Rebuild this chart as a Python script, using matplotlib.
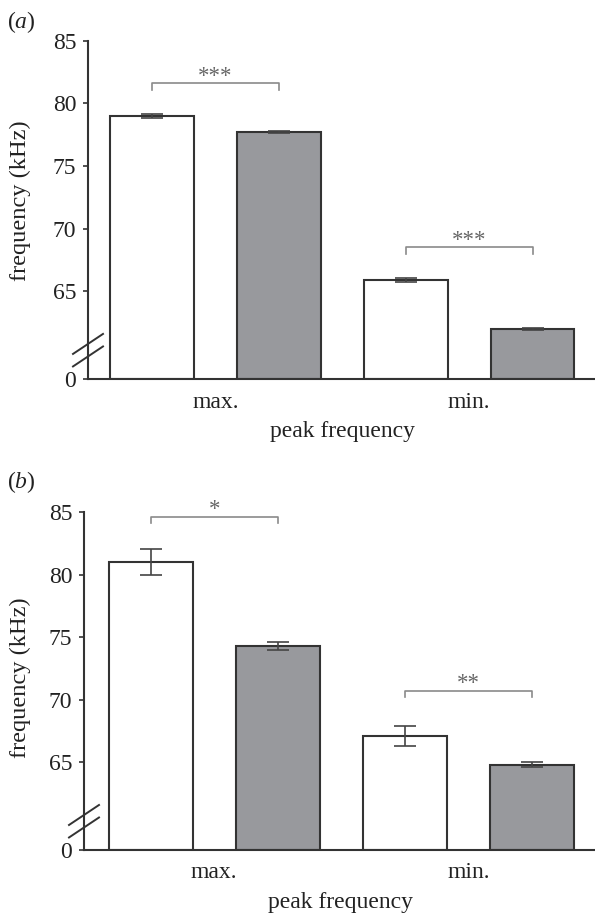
import matplotlib
matplotlib.use('Agg')
import matplotlib.pyplot as plt
import numpy as np

plt.rcParams['font.family'] = ['Liberation Serif', 'DejaVu Serif']
plt.rcParams['mathtext.fontset'] = 'custom'
plt.rcParams['mathtext.rm'] = 'Liberation Serif'
plt.rcParams['mathtext.it'] = 'Liberation Serif:italic'

# ---------------- data ----------------
groups = ['max.', 'min.']
bar_colors = ['white', '#98999d', 'white', '#98999d']
a_means = [79.0, 77.7, 65.9, 62.0]
a_errs = [0.13, 0.08, 0.13, 0.08]
b_means = [81.0, 74.3, 67.1, 64.8]
b_errs = [1.05, 0.3, 0.8, 0.2]
a_sig = ['***', '***']
b_sig = ['*', '**']
a_bracket_y = [81.6, 68.5]
b_bracket_y = [84.65, 70.75]
ytick_vals = [65, 70, 75, 80, 85]
ytick_labels = ['65', '70', '75', '80', '85']
axis_base = 58          # value drawn at the broken axis bottom, labelled "0"
axis_top = 85
panel_labels = [r'($\mathit{a}$)', r'($\mathit{b}$)']
ylabel = 'frequency (kHz)'
xlabel = 'peak frequency'

W, H = 595, 917
DPI = 100
fig = plt.figure(figsize=(W / DPI, H / DPI), dpi=DPI)

def ax_px(left, top, right, bottom):
    return fig.add_axes([left / W, 1 - bottom / H, (right - left) / W, (bottom - top) / H])

TXT = '#222222'
EDGE = '#333333'
FS = 17

def draw_panel(ax, means, errs, sig, bracket_y, xlim_left):
    x = np.arange(len(means))
    heights = np.array(means) - axis_base
    ax.bar(x, heights, bottom=axis_base, width=0.66, color=bar_colors,
           edgecolor=EDGE, linewidth=1.5, zorder=2)
    ax.errorbar(x, means, yerr=errs, fmt='none', ecolor='#444444',
                elinewidth=1.2, capsize=7.8, capthick=1.2, zorder=3)
    ax.set_xlim(xlim_left, 3.5)
    ax.set_ylim(axis_base, axis_top)
    ax.set_yticks([axis_base] + ytick_vals)
    ax.set_yticklabels(['0'] + ytick_labels)
    ax.set_xticks([0.5, 2.5])
    ax.set_xticklabels(groups)
    ax.tick_params(axis='x', length=0, pad=9, labelsize=FS, colors=TXT)
    ax.tick_params(axis='y', length=3.5, width=1.2, pad=5, labelsize=FS,
                   colors=TXT, color=EDGE)
    for s in ['top', 'right']:
        ax.spines[s].set_visible(False)
    for s in ['left', 'bottom']:
        ax.spines[s].set_color(EDGE)
        ax.spines[s].set_linewidth(1.5)
    ax.set_xlabel(xlabel, fontsize=FS, color=TXT, labelpad=6)
    # significance brackets
    for i, (s, yb) in enumerate(zip(sig, bracket_y)):
        x0, x1 = 2 * i, 2 * i + 1
        ax.plot([x0, x0, x1, x1], [yb - 0.5, yb, yb, yb - 0.5], color='#8a8a8a',
                lw=1.2, zorder=4, clip_on=False)
        ax.text((x0 + x1) / 2, yb + 0.12, s, ha='center', va='baseline',
                fontsize=16.5, color='#666666')
    # axis break marks
    for yc in [60.8, 59.8]:
        xd, yd = ax.transData.transform((xlim_left, yc))
        dx, dy = 15, 10
        fig.add_artist(plt.Line2D([xd - dx, xd + dx], [yd - dy, yd + dy],
                                  transform=None, color=EDGE, lw=1.4))

axA = ax_px(88, 40.7, 596, 379)
axB = ax_px(84, 512.3, 596, 850)
draw_panel(axA, a_means, a_errs, a_sig, a_bracket_y, -0.504)
draw_panel(axB, b_means, b_errs, b_sig, b_bracket_y, -0.523)

fig.text(7 / W, 1 - 22 / H, panel_labels[0], fontsize=FS, color=TXT, ha='left', va='center')
fig.text(7 / W, 1 - 482 / H, panel_labels[1], fontsize=FS, color=TXT, ha='left', va='center')
fig.text(20 / W, 1 - 201 / H, ylabel, rotation=90, fontsize=17.6, color=TXT, ha='center', va='center')
fig.text(20 / W, 1 - 678 / H, ylabel, rotation=90, fontsize=17.6, color=TXT, ha='center', va='center')

fig.savefig('out.png', dpi=DPI)
